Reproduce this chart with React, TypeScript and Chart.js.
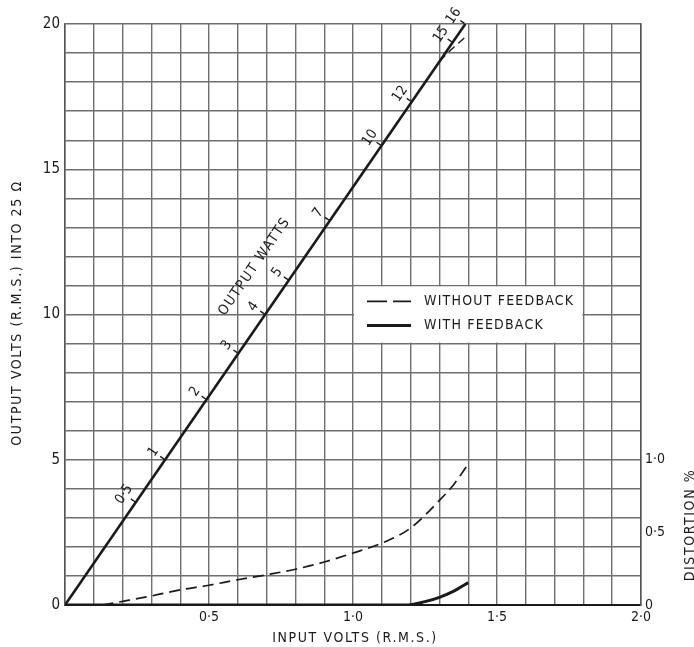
import React, { useEffect, useRef } from "react";
import { Chart, registerables } from "chart.js";

Chart.register(...registerables);

// ---- data ----
const MAIN_INPUT = [0, 1.39];
const MAIN_OUTPUT = [0, 20];
const NOFB_OUT_INPUT = [1.3, 1.35, 1.39];
const NOFB_OUT_OUTPUT = [18.72, 19.2, 19.55];
const DIST_NOFB_INPUT = [0.13, 0.2, 0.3, 0.4, 0.5, 0.6, 0.7, 0.8, 0.9, 1.0, 1.1, 1.2, 1.3, 1.35, 1.4];
const DIST_NOFB = [0, 0.025, 0.062, 0.104, 0.136, 0.174, 0.208, 0.246, 0.296, 0.358, 0.426, 0.53, 0.72, 0.83, 0.97];
const DIST_FB_INPUT = [0, 1.19, 1.25, 1.3, 1.35, 1.4];
const DIST_FB = [0, 0, 0.023, 0.053, 0.095, 0.154];
const WATT_MARKS = [0.5, 1, 2, 3, 4, 5, 7, 10, 12, 15, 16];
const WATT_LABELS = ["0·5", "1", "2", "3", "4", "5", "7", "10", "12", "15", "16"];
const LOAD_OHMS = 25;
const X_TICK_LABELS: Record<string, string> = { "0.5": "0·5", "1.0": "1·0", "1.5": "1·5", "2.0": "2·0" };
const Y_TICK_LABELS = [0, 5, 10, 15, 20];
const Y2_TICK_LABELS: Record<string, string> = { "0.0": "0", "0.5": "0·5", "1.0": "1·0" };
const LEGEND_LABELS = ["WITHOUT FEEDBACK", "WITH FEEDBACK"];
const X_TITLE = "INPUT VOLTS (R.M.S.)";
const Y_TITLE = "OUTPUT VOLTS (R.M.S.) INTO 25 Ω";
const Y2_TITLE = "DISTORTION %";
const LINE_TITLE = "OUTPUT WATTS";

const FONT = "'DejaVu Sans Condensed', 'Liberation Sans Narrow', 'DejaVu Sans', sans-serif";
const INK = "#1a1a1a";
const GRID = "#6f6f6f";

function pts(xs: number[], ys: number[]) {
  return xs.map((x, i) => ({ x, y: ys[i] }));
}

function interpInput(v: number) {
  for (let i = 0; i < MAIN_OUTPUT.length - 1; i++) {
    const a = MAIN_OUTPUT[i], b = MAIN_OUTPUT[i + 1];
    if (v >= a && v <= b) {
      const t = (v - a) / (b - a);
      return MAIN_INPUT[i] + t * (MAIN_INPUT[i + 1] - MAIN_INPUT[i]);
    }
  }
  return MAIN_INPUT[MAIN_INPUT.length - 1];
}

const annotPlugin = {
  id: "annot",
  afterDraw(chart: any) {
    const ctx = chart.ctx as CanvasRenderingContext2D;
    const xs = chart.scales.x, ys = chart.scales.y;
    const last = MAIN_INPUT.length - 1;
    const p0 = { x: xs.getPixelForValue(MAIN_INPUT[0]), y: ys.getPixelForValue(MAIN_OUTPUT[0]) };
    const p1 = { x: xs.getPixelForValue(MAIN_INPUT[last]), y: ys.getPixelForValue(MAIN_OUTPUT[last]) };
    const L = Math.hypot(p1.x - p0.x, p1.y - p0.y);
    const d = { x: (p1.x - p0.x) / L, y: (p1.y - p0.y) / L };
    const n = { x: d.y, y: -d.x };
    const ang = Math.atan2(d.y, d.x);

    ctx.save();
    ctx.fillStyle = INK;
    ctx.strokeStyle = INK;
    ctx.textAlign = "center";
    ctx.textBaseline = "middle";

    // watt markers along the line
    ctx.font = `14px ${FONT}`;
    ctx.lineWidth = 1.4;
    WATT_MARKS.forEach((w, i) => {
      const v = Math.sqrt(w * LOAD_OHMS);
      const xi = interpInput(v);
      const px = xs.getPixelForValue(xi), py = ys.getPixelForValue(v);
      ctx.beginPath();
      ctx.moveTo(px + n.x * 1, py + n.y * 1);
      ctx.lineTo(px + n.x * 6, py + n.y * 6);
      ctx.stroke();
      ctx.save();
      ctx.translate(px + n.x * 14, py + n.y * 14);
      ctx.rotate(ang);
      ctx.fillText(WATT_LABELS[i], 0, 0);
      ctx.restore();
    });

    // OUTPUT WATTS title along the line
    {
      const v = 10.95;
      const px = xs.getPixelForValue(interpInput(v)), py = ys.getPixelForValue(v);
      ctx.save();
      ctx.translate(px + n.x * 36, py + n.y * 36);
      ctx.rotate(ang);
      ctx.font = `14px ${FONT}`;
      (ctx as any).letterSpacing = "1.5px";
      ctx.fillText(LINE_TITLE, 0, 0);
      ctx.restore();
    }

    // legend box
    {
      const left = xs.getPixelForValue(1.0), right = xs.getPixelForValue(1.8);
      const top = ys.getPixelForValue(11), bottom = ys.getPixelForValue(9);
      ctx.fillStyle = "#ffffff";
      ctx.fillRect(left + 1, top + 1, right - left - 2, bottom - top - 2);
      ctx.fillStyle = INK;
      const rows = [top + 16, top + 40];
      ctx.lineWidth = 1.8;
      ctx.setLineDash([20, 6]);
      ctx.beginPath();
      ctx.moveTo(left + 14, rows[0]);
      ctx.lineTo(left + 58, rows[0]);
      ctx.stroke();
      ctx.setLineDash([]);
      ctx.lineWidth = 3;
      ctx.beginPath();
      ctx.moveTo(left + 14, rows[1]);
      ctx.lineTo(left + 58, rows[1]);
      ctx.stroke();
      ctx.textAlign = "left";
      ctx.font = `14px ${FONT}`;
      (ctx as any).letterSpacing = "1.2px";
      ctx.fillText(LEGEND_LABELS[0], left + 71, rows[0]);
      ctx.fillText(LEGEND_LABELS[1], left + 71, rows[1]);
    }

    // axis titles
    ctx.textAlign = "center";
    ctx.font = `14px ${FONT}`;
    (ctx as any).letterSpacing = "1.6px";
    ctx.fillText(X_TITLE, 355, 638);

    ctx.save();
    ctx.translate(17, 313);
    ctx.rotate(-Math.PI / 2);
    ctx.fillText(Y_TITLE, 0, 0);
    ctx.restore();

    ctx.save();
    ctx.translate(690, 525);
    ctx.rotate(-Math.PI / 2);
    ctx.fillText(Y2_TITLE, 0, 0);
    ctx.restore();

    ctx.restore();
  },
};

export default function App() {
  const ref = useRef<HTMLCanvasElement | null>(null);

  useEffect(() => {
    if (!ref.current) return;
    Chart.defaults.font.family = FONT;
    const chart = new Chart(ref.current, {
      type: "line",
      data: {
        datasets: [
          {
            data: pts(MAIN_INPUT, MAIN_OUTPUT),
            yAxisID: "y",
            borderColor: INK,
            borderWidth: 2.6,
            pointRadius: 0,
            fill: false,
          },
          {
            data: pts(NOFB_OUT_INPUT, NOFB_OUT_OUTPUT),
            yAxisID: "y",
            borderColor: INK,
            borderWidth: 1.4,
            borderDash: [8, 5],
            pointRadius: 0,
            fill: false,
            cubicInterpolationMode: "monotone",
          },
          {
            data: pts(DIST_NOFB_INPUT, DIST_NOFB),
            yAxisID: "y2",
            borderColor: INK,
            borderWidth: 1.7,
            borderDash: [11, 6],
            pointRadius: 0,
            fill: false,
            cubicInterpolationMode: "monotone",
          },
          {
            data: pts(DIST_FB_INPUT, DIST_FB),
            yAxisID: "y2",
            borderColor: INK,
            borderWidth: 3,
            pointRadius: 0,
            fill: false,
            cubicInterpolationMode: "monotone",
          },
        ],
      } as any,
      options: {
        animation: false,
        responsive: false,
        layout: { padding: { top: 24, left: 0, right: 0, bottom: 0 } },
        plugins: { legend: { display: false }, tooltip: { enabled: false } },
        scales: {
          x: {
            type: "linear",
            min: 0,
            max: 2,
            ticks: {
              stepSize: 0.1,
              autoSkip: false,
              maxRotation: 0,
              minRotation: 0,
              padding: 4,
              color: INK,
              font: { family: FONT, size: 14 },
              callback: (v: any) => X_TICK_LABELS[Number(v).toFixed(1)] ?? "",
            },
            grid: { color: GRID, lineWidth: 1.4, drawTicks: false },
            border: { color: INK, width: 2 },
            afterFit: (s: any) => {
              s.height = 42;
            },
          },
          y: {
            type: "linear",
            position: "left",
            min: 0,
            max: 20,
            ticks: {
              stepSize: 1,
              autoSkip: false,
              padding: 5,
              color: INK,
              font: { family: FONT, size: 15 },
              callback: (v: any) => (Y_TICK_LABELS.includes(Number(v)) ? String(v) : ""),
            },
            grid: { color: GRID, lineWidth: 1.4, drawTicks: false },
            border: { color: "#555", width: 1.5 },
            afterFit: (s: any) => {
              s.width = 65;
            },
          },
          y2: {
            type: "linear",
            position: "right",
            min: 0,
            max: 4,
            ticks: {
              stepSize: 0.5,
              autoSkip: false,
              padding: 4,
              color: INK,
              font: { family: FONT, size: 14 },
              callback: (v: any) => Y2_TICK_LABELS[Number(v).toFixed(1)] ?? "",
            },
            grid: { drawOnChartArea: false, drawTicks: false },
            border: { color: "#555", width: 1.5 },
            afterFit: (s: any) => {
              s.width = 53;
            },
          },
        },
      } as any,
      plugins: [annotPlugin],
    });
    return () => chart.destroy();
  }, []);

  return (
    <div style={{ position: "absolute", left: 0, top: 0, width: 694, height: 647, background: "#fff" }}>
      <canvas ref={ref} width={694} height={647} style={{ display: "block" }} />
    </div>
  );
}
